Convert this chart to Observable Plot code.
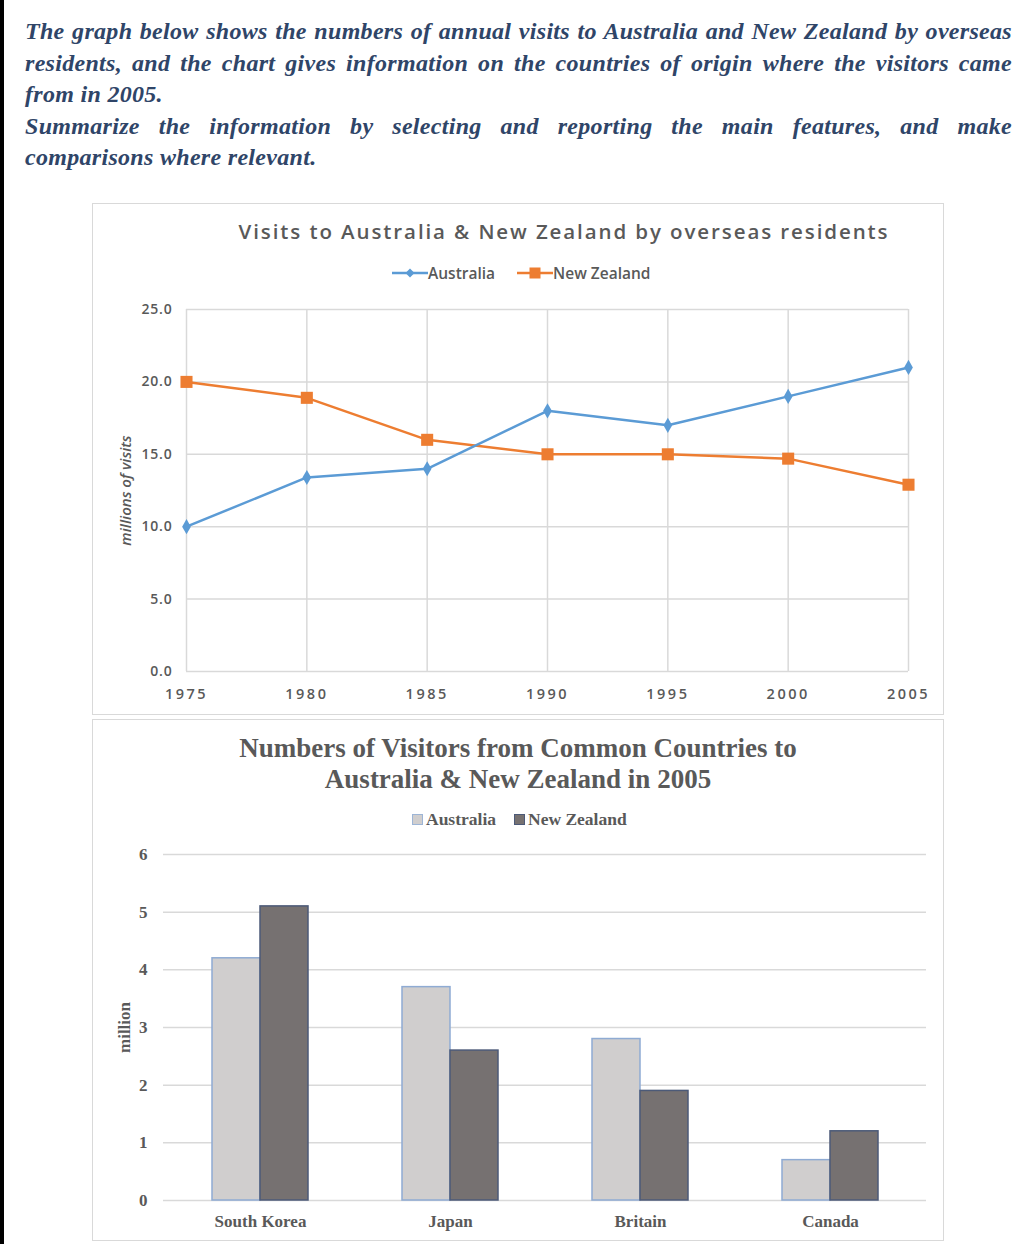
<!DOCTYPE html>
<html>
<head>
<meta charset="utf-8">
<script src="https://cdn.jsdelivr.net/npm/d3@7"></script>
<script src="https://cdn.jsdelivr.net/npm/@observablehq/plot@0.6"></script>
<style>
  html, body { margin: 0; padding: 0; background: #fff; }
  body { width: 1024px; height: 1244px; position: relative; overflow: hidden; }
  .strip { position: absolute; left: 0; top: 0; width: 4px; height: 1244px; background: #000; }
  .prompt { position: absolute; left: 25px; width: 987px; font-family: "Liberation Serif", serif; font-weight: bold; font-style: italic; font-size: 24px; letter-spacing: 0.3px; color: #2f4568; line-height: 31.5px; }
  .prompt div.full { text-align: justify; text-align-last: justify; }
  .panel { position: absolute; left: 92px; width: 850px; border: 1px solid #d9d9d9; background: #fff; }
  .abs { position: absolute; }
  .t1 { font-family: "Open Sans", sans-serif; font-size: 20.5px; font-weight: 600; letter-spacing: 1.9px; color: #595959; white-space: nowrap; }
  .leg1 { font-family: "Open Sans", sans-serif; font-size: 15.5px; font-weight: 600; color: #595959; display: flex; align-items: center; white-space: nowrap; }
  .t2 { font-family: "Liberation Serif", serif; font-weight: bold; font-size: 27px; color: #595959; text-align: center; line-height: 31px; white-space: nowrap; }
  .leg2 { font-family: "Liberation Serif", serif; font-weight: bold; font-size: 17.5px; color: #595959; display: flex; align-items: center; white-space: nowrap; }
  .sq { display: inline-block; width: 9px; height: 9px; margin-right: 3px; }
  #line g[aria-label="x-axis tick label"] { letter-spacing: 2.5px; }
  #line g[aria-label="y-axis tick label"] { letter-spacing: 0.8px; }
</style>
</head>
<body>
<div class="strip"></div>
<div class="prompt" style="top:16px">
  <div class="full">The graph below shows the numbers of annual visits to Australia and New Zealand by overseas</div>
  <div class="full">residents, and the chart gives information on the countries of origin where the visitors came</div>
  <div>from in 2005.</div>
  <div class="full">Summarize the information by selecting and reporting the main features, and make</div>
  <div>comparisons where relevant.</div>
</div>

<div class="panel" style="top:203px;height:510px"></div>
<div class="panel" style="top:719px;height:520px"></div>

<div class="abs t1" style="left:0;width:1024px;top:217px;text-align:center;padding-left:104px;box-sizing:border-box;">Visits to Australia &amp; New Zealand by overseas residents</div>
<div class="abs leg1" style="left:392px;top:262px;">
  <svg width="36" height="12"><line x1="0" y1="6" x2="36" y2="6" stroke="#5b9bd5" stroke-width="2.5"/><path d="M18,1.5 L22.5,6 L18,10.5 L13.5,6 Z" fill="#5b9bd5"/></svg><span>Australia</span>
  <svg width="36" height="12" style="margin-left:22px"><line x1="0" y1="6" x2="36" y2="6" stroke="#ed7d31" stroke-width="2.5"/><rect x="12.5" y="0.5" width="11" height="11" fill="#ed7d31"/></svg><span>New Zealand</span>
</div>
<div id="line" class="abs" style="left:92px;top:295px;"></div>

<div class="abs t2" style="left:92px;width:852px;top:733px;">Numbers of Visitors from Common Countries to<br>Australia &amp; New Zealand in 2005</div>
<div class="abs leg2" style="left:412px;top:809px;">
  <span class="sq" style="background:#d0cece;border:1px solid #9db5d6"></span><span>Australia</span>
  <span class="sq" style="background:#767171;border:1px solid #4c5a78;margin-left:18px"></span><span>New Zealand</span>
</div>
<div id="bar" class="abs" style="left:92px;top:840px;"></div>

<script>
// ---- Line chart data ----
const years = [1975, 1980, 1985, 1990, 1995, 2000, 2005];
const australiaVisits = [10, 13.4, 14, 18, 17, 19, 21];
const newZealandVisits = [20, 18.9, 16, 15, 15, 14.7, 12.9];
const lineTicks = [0, 5, 10, 15, 20, 25];

// ---- Bar chart data ----
const countries = ["South Korea", "Japan", "Britain", "Canada"];
const barAustralia = [4.2, 3.7, 2.8, 0.7];
const barNewZealand = [5.1, 2.6, 1.9, 1.2];
const barTicks = [0, 1, 2, 3, 4, 5, 6];

const aus = years.map((year, i) => ({year, value: australiaVisits[i]}));
const nz = years.map((year, i) => ({year, value: newZealandVisits[i]}));

const lineChart = Plot.plot({
  width: 852, height: 410,
  marginLeft: 94, marginRight: 36, marginTop: 14, marginBottom: 34,
  style: {fontFamily: "Open Sans, sans-serif", fontSize: "13px", color: "#595959", background: "transparent"},
  x: {domain: [1975, 2005]},
  y: {domain: [0, 25]},
  marks: [
    Plot.gridX(years, {stroke: "#d9d9d9", strokeOpacity: 1, strokeWidth: 1.5}),
    Plot.gridY(lineTicks, {stroke: "#d9d9d9", strokeOpacity: 1, strokeWidth: 1.5}),
    Plot.axisY(lineTicks, {tickSize: 0, tickPadding: 14, tickFormat: d => d.toFixed(1), fontWeight: 600, fontSize: 14,
      label: "millions of visits", labelAnchor: "center", labelOffset: 66, labelArrow: "none"}),
    Plot.axisX(years, {tickSize: 0, tickPadding: 17, tickFormat: d => String(d), fontWeight: 600, fontSize: 14.5, label: null}),
    Plot.line(nz, {x: "year", y: "value", stroke: "#ed7d31", strokeWidth: 2.5}),
    Plot.line(aus, {x: "year", y: "value", stroke: "#5b9bd5", strokeWidth: 2.5}),
    Plot.dot(nz, {x: "year", y: "value", symbol: "square", r: 6.8, fill: "#ed7d31"}),
    Plot.dot(aus, {x: "year", y: "value", symbol: "diamond", r: 4.6, fill: "#5b9bd5"})
  ]
});
lineChart.querySelectorAll('g[aria-label="y-axis label"] text').forEach(t => { t.setAttribute("font-style", "italic"); t.setAttribute("font-weight", "600"); t.setAttribute("font-size", "15"); });
document.getElementById("line").appendChild(lineChart);

const barData = countries.map((country, i) => ({country, au: barAustralia[i], nz: barNewZealand[i]}));

const barChart = Plot.plot({
  width: 852, height: 398,
  marginLeft: 71, marginRight: 18, marginTop: 14, marginBottom: 38,
  style: {fontFamily: "Liberation Serif, serif", fontSize: "15px", color: "#595959", background: "transparent"},
  x: {domain: countries, paddingInner: 0.497, paddingOuter: 0.25},
  y: {domain: [0, 6]},
  marks: [
    Plot.gridY(barTicks, {stroke: "#d9d9d9", strokeOpacity: 1, strokeWidth: 1.5}),
    Plot.axisY(barTicks, {tickSize: 0, tickPadding: 16, tickFormat: d => String(d), fontWeight: "bold", fontSize: 17,
      label: "million", labelAnchor: "center", labelOffset: 46, labelArrow: "none"}),
    Plot.axisX({tickSize: 0, tickPadding: 14, fontWeight: "bold", fontSize: 17, label: null}),
    Plot.barY(barData, {x: "country", y: "au", fill: "#d0cece", stroke: "#8fabd3", strokeWidth: 1.5, insetRight: 48}),
    Plot.barY(barData, {x: "country", y: "nz", fill: "#767171", stroke: "#4c5a78", strokeWidth: 1.5, insetLeft: 48})
  ]
});
barChart.querySelectorAll('g[aria-label="y-axis label"] text').forEach(t => { t.setAttribute("font-weight", "bold"); t.setAttribute("font-size", "17"); });
document.getElementById("bar").appendChild(barChart);
</script>
</body>
</html>
